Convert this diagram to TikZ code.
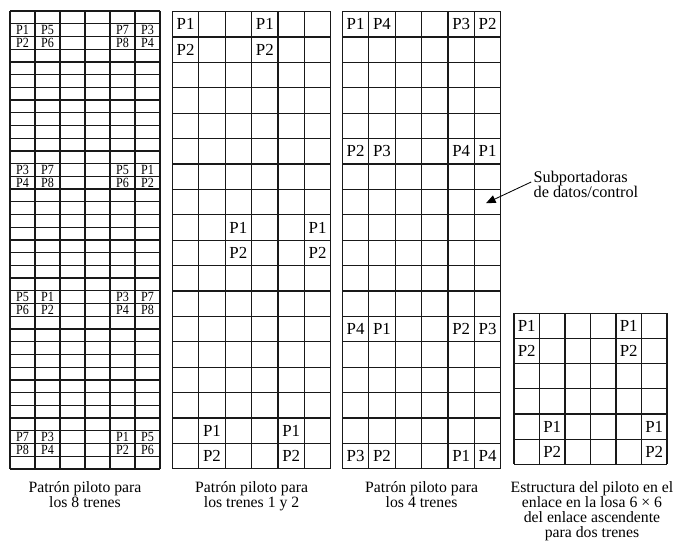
\documentclass[tikz,border=0pt]{standalone}
\usepackage{fontspec}
\setmainfont{Liberation Serif}
\usetikzlibrary{arrows.meta,positioning}

\begin{document}
\begin{tikzpicture}[
  gridline/.style={draw=black!90, line width=0.9pt},
  pilot/.style={inner sep=0pt, font=\fontsize{12}{12}\selectfont},
  smallpilot/.style={inner sep=0pt, font=\fontsize{10}{10}\selectfont, xscale=0.86, transform shape},
  caption/.style={anchor=north, align=center, inner sep=0pt, font=\fontsize{11.2}{10.6}\selectfont},
  anno/.style={anchor=west, align=left, inner sep=1.5pt, font=\fontsize{11.6}{10.6}\selectfont}
]
\useasboundingbox (0,0) rectangle (16.95,-13.55);
% grids: left x / top y / cell width / cell height / rows
\foreach \gx/\gy/\gw/\gh/\gr in {0.25/-0.275/0.625/0.318/36, 4.31/-0.29/0.66/0.635/18,
  8.56/-0.29/0.66/0.635/18, 12.85/-7.83/0.6375/0.63/6}{
  \foreach \i in {0,...,6}
    \draw[gridline] ({\gx+\i*\gw},\gy) -- ++(0,{-\gr*\gh});
  \foreach \j in {0,...,\gr}
    \draw[gridline] (\gx,{\gy-\j*\gh}) -- ++({6*\gw},0);
}
% pilots, 8 trains
\def\cw{0.625}\def\ch{0.318}
\foreach \r/\c/\lab in {2/1/P1,2/2/P5,2/5/P7,2/6/P3, 3/1/P2,3/2/P6,3/5/P8,3/6/P4,
  13/1/P3,13/2/P7,13/5/P5,13/6/P1, 14/1/P4,14/2/P8,14/5/P6,14/6/P2,
  23/1/P5,23/2/P1,23/5/P3,23/6/P7, 24/1/P6,24/2/P2,24/5/P4,24/6/P8,
  34/1/P7,34/2/P3,34/5/P1,34/6/P5, 35/1/P8,35/2/P4,35/5/P2,35/6/P6}{
  \node[smallpilot] (a\r-\c) at ({0.25+(\c-0.5)*\cw},{-0.275-(\r-0.5)*\ch}) {\lab};
}
% pilots, trains 1 and 2
\def\cw{0.66}\def\ch{0.635}
\foreach \r/\c/\lab in {1/1/P1,1/4/P1,2/1/P2,2/4/P2, 9/3/P1,9/6/P1,10/3/P2,10/6/P2,
  17/2/P1,17/5/P1,18/2/P2,18/5/P2}{
  \node[pilot] (b\r-\c) at ({4.31+(\c-0.5)*\cw},{-0.29-(\r-0.5)*\ch}) {\lab};
}
% pilots, 4 trains
\foreach \r/\c/\lab in {1/1/P1,1/2/P4,1/5/P3,1/6/P2, 6/1/P2,6/2/P3,6/5/P4,6/6/P1,
  13/1/P4,13/2/P1,13/5/P2,13/6/P3, 18/1/P3,18/2/P2,18/5/P1,18/6/P4}{
  \node[pilot] (c\r-\c) at ({8.56+(\c-0.5)*\cw},{-0.29-(\r-0.5)*\ch}) {\lab};
}
% pilots, 6x6 tile
\def\cw{0.6375}\def\ch{0.63}
\foreach \r/\c/\lab in {1/1/P1,1/5/P1,2/1/P2,2/5/P2,5/2/P1,5/6/P1,6/2/P2,6/6/P2}{
  \node[pilot] (d\r-\c) at ({12.85+(\c-0.5)*\cw},{-7.83-(\r-0.5)*\ch}) {\lab};
}
% captions
\node[caption] (capa) at (2.125,-12.03) {Patrón piloto para\\los 8 trenes};
\node[caption] (capb) at (6.29,-12.03) {Patrón piloto para\\los trenes 1 y 2};
\node[caption] (capc) at (10.54,-12.03) {Patrón piloto para\\los 4 trenes};
\node[caption] (capd) at (14.8,-12.03) {Estructura del piloto en el\\enlace en la losa 6 × 6\\del enlace ascendente\\para dos trenes};
% data subcarriers
\node[anno] (sub) at (13.28,-4.62) {Subportadoras\\de datos/control};
\coordinate (subtip) at (12.15,-5.08);
\draw[-{Triangle[length=2.4mm,width=2mm]}, line width=0.6pt] ([yshift=2pt]sub.west) -- (subtip);
\end{tikzpicture}
\end{document}
